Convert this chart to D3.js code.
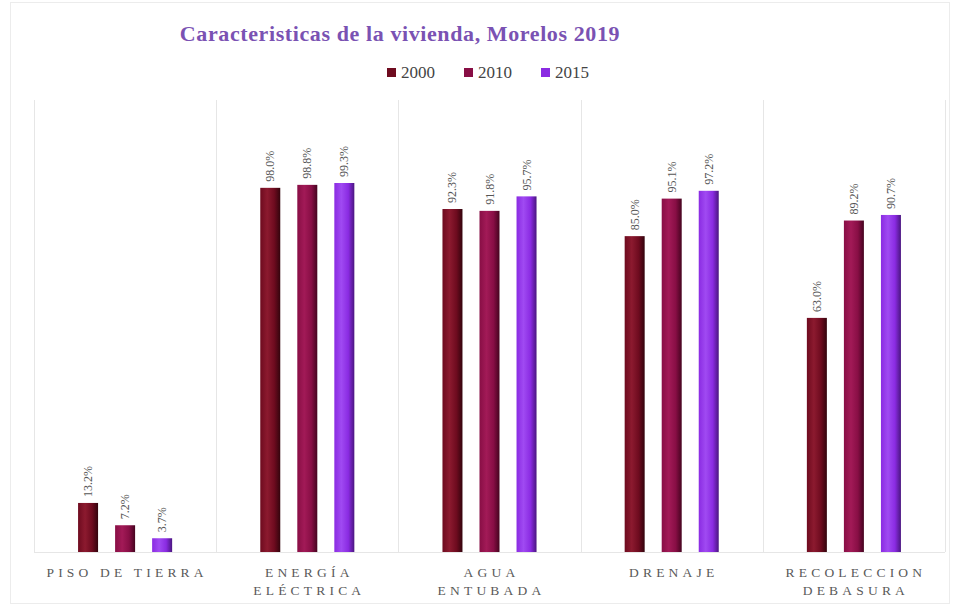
<!DOCTYPE html>
<html>
<head>
<meta charset="utf-8">
<script src="https://cdn.jsdelivr.net/npm/d3@7/dist/d3.min.js"></script>
<style>
  html, body { margin: 0; padding: 0; background: #fff; }
  svg { display: block; }
</style>
</head>
<body>
<svg id="chart" width="953" height="605"></svg>
<script>
// Housing characteristics by year (% of dwellings)
const categories = [
  ["PISO DE TIERRA"],
  ["ENERGÍA", "ELÉCTRICA"],
  ["AGUA", "ENTUBADA"],
  ["DRENAJE"],
  ["RECOLECCION", "DEBASURA"]
];
const years = ["2000", "2010", "2015"];
const values2000 = [13.2, 98.0, 92.3, 85.0, 63.0];
const values2010 = [7.2, 98.8, 91.8, 95.1, 89.2];
const values2015 = [3.7, 99.3, 95.7, 97.2, 90.7];
const labels2000 = ["13.2%", "98.0%", "92.3%", "85.0%", "63.0%"];
const labels2010 = ["7.2%", "98.8%", "91.8%", "95.1%", "89.2%"];
const labels2015 = ["3.7%", "99.3%", "95.7%", "97.2%", "90.7%"];

const series = [
  { year: years[0], values: values2000, labels: labels2000 },
  { year: years[1], values: values2010, labels: labels2010 },
  { year: years[2], values: values2015, labels: labels2015 }
];

const colors = {
  "2000": { base: "#6e0b1f", light: "#8c1a2f", dark: "#33040d" },
  "2010": { base: "#880e45", light: "#a21a57", dark: "#45041f" },
  "2015": { base: "#8a2be2", light: "#a04af2", dark: "#4a1680" }
};

const svg = d3.select("#chart");
const W = 953, H = 605;
const plot = { left: 34, right: 945, top: 100, bottom: 552 };

// outer frame
svg.append("rect")
  .attr("x", 10.5).attr("y", 2.5).attr("width", W - 14).attr("height", H - 4)
  .attr("fill", "none").attr("stroke", "#ececec").attr("stroke-width", 1);

const defs = svg.append("defs");
years.forEach(y => {
  const c = colors[y];
  const g = defs.append("linearGradient").attr("id", "grad" + y)
    .attr("x1", "0%").attr("x2", "100%").attr("y1", "0%").attr("y2", "0%");
  g.append("stop").attr("offset", "0%").attr("stop-color", c.base);
  g.append("stop").attr("offset", "35%").attr("stop-color", c.light);
  g.append("stop").attr("offset", "70%").attr("stop-color", c.base);
  g.append("stop").attr("offset", "100%").attr("stop-color", c.dark);
});

const x0 = d3.scaleBand()
  .domain(d3.range(categories.length))
  .range([plot.left, plot.right])
  .paddingInner(0).paddingOuter(0);

const x1 = d3.scaleBand()
  .domain(years)
  .range([0, x0.bandwidth()])
  .paddingInner(0.46).paddingOuter(1.19);

const yScale = d3.scaleLinear().domain([0, 100]).range([plot.bottom, plot.bottom - 371.6]);

// category dividers
const dividers = d3.range(categories.length + 1).map(i =>
  i < categories.length ? x0(i) : x0(categories.length - 1) + x0.bandwidth());
svg.append("g").selectAll("line").data(dividers).join("line")
  .attr("x1", d => Math.round(d) + 0.5).attr("x2", d => Math.round(d) + 0.5)
  .attr("y1", plot.top).attr("y2", plot.bottom)
  .attr("stroke", "#e6e6e6").attr("stroke-width", 1);

// baseline
svg.append("line")
  .attr("x1", plot.left).attr("x2", plot.right)
  .attr("y1", plot.bottom + 0.5).attr("y2", plot.bottom + 0.5)
  .attr("stroke", "#e6e6e6");

// bars
const groups = svg.append("g").selectAll("g").data(series).join("g");
groups.selectAll("rect")
  .data(s => s.values.map((v, i) => ({ v, i, year: s.year, label: s.labels[i] })))
  .join("rect")
  .attr("x", d => x0(d.i) + x1(d.year))
  .attr("width", x1.bandwidth())
  .attr("y", d => yScale(d.v))
  .attr("height", d => yScale(0) - yScale(d.v))
  .attr("fill", d => `url(#grad${d.year})`);

// value labels (rotated)
groups.selectAll("text")
  .data(s => s.values.map((v, i) => ({ v, i, year: s.year, label: s.labels[i] })))
  .join("text")
  .attr("transform", d => {
    const cx = x0(d.i) + x1(d.year) + x1.bandwidth() / 2 + 4;
    const cy = yScale(d.v) - 6;
    return `translate(${cx},${cy}) rotate(-90)`;
  })
  .attr("text-anchor", "start")
  .attr("font-family", "Liberation Serif, Times New Roman, serif")
  .attr("font-size", 12)
  .attr("fill", "#555")
  .text(d => d.label);

// category labels
const catG = svg.append("g");
categories.forEach((lines, i) => {
  const cx = x0(i) + x0.bandwidth() / 2;
  lines.forEach((ln, j) => {
    catG.append("text")
      .attr("x", cx + 2).attr("y", 577 + j * 18)
      .attr("text-anchor", "middle")
      .attr("font-family", "Liberation Serif, Times New Roman, serif")
      .attr("font-size", 13.5)
      .attr("letter-spacing", "4.2px")
      .attr("fill", "#5a5a5a")
      .text(ln);
  });
});

// title
svg.append("text")
  .attr("x", 400).attr("y", 41)
  .attr("text-anchor", "middle")
  .attr("font-family", "Liberation Serif, Times New Roman, serif")
  .attr("font-weight", "bold")
  .attr("font-size", 22)
  .attr("letter-spacing", "0.6px")
  .attr("fill", "#7a52b3")
  .text("Caracteristicas de la vivienda, Morelos 2019");

// legend
const legend = svg.append("g").attr("transform", "translate(387,72)");
const legendX = [0, 77, 154];
years.forEach((y, i) => {
  const g = legend.append("g").attr("transform", `translate(${legendX[i]},0)`);
  g.append("rect").attr("x", 0).attr("y", -4).attr("width", 9).attr("height", 9)
    .attr("fill", colors[y].base);
  g.append("text").attr("x", 14).attr("y", 6)
    .attr("font-family", "Liberation Serif, Times New Roman, serif")
    .attr("font-size", 17).attr("fill", "#444")
    .text(y);
});
</script>
</body>
</html>
